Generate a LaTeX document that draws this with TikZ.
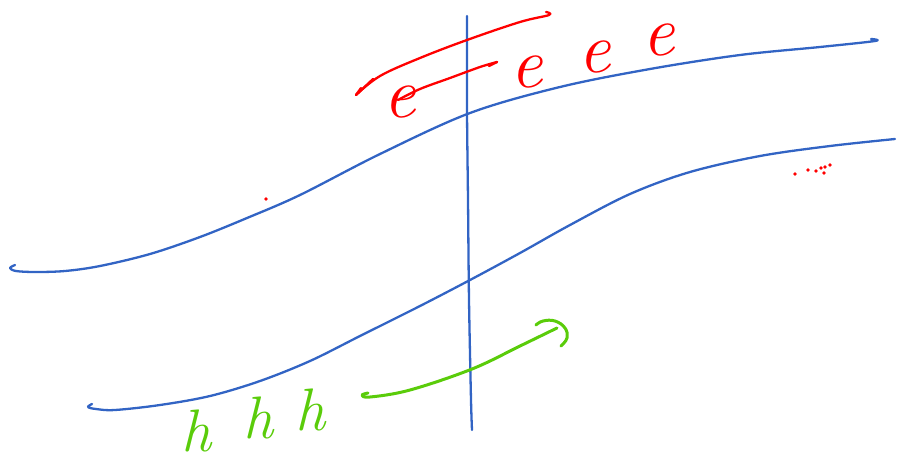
\documentclass[tikz,border=0pt]{standalone}
\usetikzlibrary{calc}
\definecolor{bandblue}{RGB}{50,100,196}
\definecolor{pred}{RGB}{255,0,0}
\definecolor{pgreen}{RGB}{90,204,10}
\tikzset{
  band/.style={draw=bandblue, line width=2.3pt, line cap=round, line join=round},
  redpen/.style={draw=pred, line width=2.3pt, line cap=round, line join=round},
  greenpen/.style={draw=pgreen, line width=3pt, line cap=round, line join=round},
  elec/.style={text=pred, font=\fontsize{72}{72}\selectfont\itshape, inner sep=0pt, anchor=base},
  hole/.style={text=pgreen, font=\fontsize{60}{60}\selectfont\itshape, inner sep=0pt, anchor=base},
}
\begin{document}
\begin{tikzpicture}[x=1pt,y=-1pt]
\useasboundingbox (0,0) rectangle (899,458);
% upper band edge
\draw[band] plot[smooth, tension=0.55] coordinates {(15,265) (10,268) (16,271) (35,272) (65,271) (100,266) (150,254) (200,237) (247,218) (300,195) (380,154) (470,113) (560,87) (650,69) (740,55) (820,47) (875,41) (871,39)};
% lower band edge
\draw[band] plot[smooth, tension=0.55] coordinates {(92,404) (88,407) (96,409) (115,410) (160,405) (210,396) (260,381) (310,361) (360,336) (420,306) (470,280) (520,253) (570,225) (630,194) (690,172) (760,156) (830,146) (895,139)};
% junction line
\draw[band] plot[smooth] coordinates {(467,16) (467,110) (468,200) (469,300) (471,400) (472,430)};
% red arrows
\draw[redpen] plot[smooth, tension=0.6] coordinates {(546,12) (549,15) (520,22) (467,40) (420,58) (380,76) (356,95)};
\draw[redpen] (356,95) -- (373,79);
\draw[redpen] (356,95) -- (361,88);
\draw[redpen] plot[smooth, tension=0.6] coordinates {(398,100) (420,89) (450,78) (480,67) (497,62)};
\draw[redpen] (497,62) -- (489,66);
% electrons
\node[elec] (e1) at (400,117) {e};
\node[elec] (e2) at (527,87) {e};
\node[elec] (e3) at (595,72) {e};
\node[elec] (e4) at (659,55) {e};
% stray red dots
\foreach \p [count=\i] in {(266,199),(795,174),(808,170),(816,171),(821,168),(825,167),(830,165),(824,173)}
  \fill[pred] \p circle (1.8pt);
% green arrow
\draw[greenpen] plot[smooth, tension=0.6] coordinates {(368,393) (362,395) (370,397) (410,390) (472,369) (520,346) (557,328)};
\draw[greenpen] plot[smooth, tension=0.7] coordinates {(536,325) (543,321) (555,321) (565,328) (567,338) (561,346)};
% holes
\node[hole] (h1) at (196,451) {h};
\node[hole] (h2) at (258,438) {h};
\node[hole] (h3) at (310,430) {h};
\end{tikzpicture}
\end{document}
